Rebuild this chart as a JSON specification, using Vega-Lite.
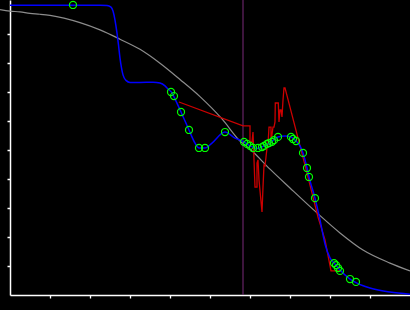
{
  "$schema": "https://vega.github.io/schema/vega-lite/v6.json",
  "width": 400,
  "height": 295,
  "autosize": "none",
  "padding": {"left": 10, "top": 0, "right": 0, "bottom": 15},
  "background": "#000000",
  "config": {"view": {"stroke": null}},
  "datasets": {
    "gray": [
      {"i":0,"x":-0.25,"y":9.84},{"i":1,"x":0,"y":9.79},{"i":2,"x":0.25,"y":9.76},{"i":3,"x":0.5,"y":9.71},
      {"i":4,"x":0.75,"y":9.68},{"i":5,"x":1.0,"y":9.64},{"i":6,"x":1.75,"y":9.39},{"i":7,"x":2.25,"y":9.14},
      {"i":8,"x":2.75,"y":8.82},{"i":9,"x":3.25,"y":8.47},{"i":10,"x":3.75,"y":7.99},{"i":11,"x":4.25,"y":7.43},
      {"i":12,"x":4.75,"y":6.84},{"i":13,"x":5.3,"y":6.07},{"i":14,"x":5.75,"y":5.31},{"i":15,"x":6.025,"y":5.0},
      {"i":16,"x":6.5,"y":4.34},{"i":17,"x":7.0,"y":3.69},{"i":18,"x":7.675,"y":2.83},{"i":19,"x":8.25,"y":2.14},
      {"i":20,"x":8.825,"y":1.55},{"i":21,"x":9.5,"y":1.10},{"i":22,"x":10.0,"y":0.83}
    ],
    "blue": [
      {"i":0,"x":0,"y":9.99},{"i":1,"x":2.25,"y":9.99},{"i":2,"x":2.425,"y":9.98},{"i":3,"x":2.525,"y":9.93},
      {"i":4,"x":2.575,"y":9.79},{"i":5,"x":2.625,"y":9.48},{"i":6,"x":2.675,"y":9.03},{"i":7,"x":2.7125,"y":8.62},
      {"i":8,"x":2.75,"y":8.17},{"i":9,"x":2.7875,"y":7.83},{"i":10,"x":2.825,"y":7.59},{"i":11,"x":2.9,"y":7.40},
      {"i":12,"x":3.0,"y":7.33},{"i":13,"x":3.25,"y":7.33},{"i":14,"x":3.575,"y":7.34},{"i":15,"x":3.75,"y":7.31},
      {"i":16,"x":3.875,"y":7.21},{"i":17,"x":3.95,"y":7.10},{"i":18,"x":4.05,"y":6.97},{"i":19,"x":4.1,"y":6.83},
      {"i":20,"x":4.275,"y":6.31},{"i":21,"x":4.475,"y":5.69},{"i":22,"x":4.625,"y":5.24},{"i":23,"x":4.725,"y":5.07},
      {"i":24,"x":4.875,"y":5.07},{"i":25,"x":5.05,"y":5.24},{"i":26,"x":5.375,"y":5.62},{"i":27,"x":5.625,"y":5.41},
      {"i":28,"x":5.85,"y":5.28},{"i":29,"x":6.0,"y":5.14},{"i":30,"x":6.2,"y":5.05},{"i":31,"x":6.35,"y":5.14},
      {"i":32,"x":6.5,"y":5.24},{"i":33,"x":6.7,"y":5.45},{"i":34,"x":6.875,"y":5.48},{"i":35,"x":7.025,"y":5.45},
      {"i":36,"x":7.15,"y":5.31},{"i":37,"x":7.25,"y":5.14},{"i":38,"x":7.325,"y":4.90},{"i":39,"x":7.425,"y":4.38},
      {"i":40,"x":7.475,"y":4.07},{"i":41,"x":7.625,"y":3.34},{"i":42,"x":7.75,"y":2.59},{"i":43,"x":7.875,"y":1.76},
      {"i":44,"x":8.0,"y":1.28},{"i":45,"x":8.125,"y":1.07},{"i":46,"x":8.25,"y":0.86},{"i":47,"x":8.5,"y":0.55},
      {"i":48,"x":8.675,"y":0.41},{"i":49,"x":9.0,"y":0.24},{"i":50,"x":9.5,"y":0.10},{"i":51,"x":10.0,"y":0.03}
    ],
    "red": [
      {"i":0,"x":4.225,"y":6.655},{"i":1,"x":5.825,"y":5.83},{"i":2,"x":6.0,"y":5.83},{"i":3,"x":6.0,"y":5.28},
      {"i":4,"x":6.05,"y":5.28},{"i":5,"x":6.075,"y":5.62},{"i":6,"x":6.125,"y":3.72},{"i":7,"x":6.175,"y":3.72},
      {"i":8,"x":6.175,"y":4.55},{"i":9,"x":6.2,"y":4.66},{"i":10,"x":6.225,"y":3.97},{"i":11,"x":6.3,"y":2.86},
      {"i":12,"x":6.325,"y":3.72},{"i":13,"x":6.35,"y":4.48},{"i":14,"x":6.375,"y":4.45},{"i":15,"x":6.4,"y":4.76},
      {"i":16,"x":6.425,"y":5.07},{"i":17,"x":6.45,"y":5.17},{"i":18,"x":6.475,"y":5.79},{"i":19,"x":6.525,"y":5.79},
      {"i":20,"x":6.525,"y":5.28},{"i":21,"x":6.575,"y":5.79},{"i":22,"x":6.6,"y":5.79},{"i":23,"x":6.625,"y":5.97},
      {"i":24,"x":6.6325,"y":6.62},{"i":25,"x":6.7075,"y":6.62},{"i":26,"x":6.725,"y":5.97},{"i":27,"x":6.75,"y":6.38},
      {"i":28,"x":6.775,"y":6.38},{"i":29,"x":6.8,"y":6.14},{"i":30,"x":6.825,"y":6.72},{"i":31,"x":6.85,"y":7.14},
      {"i":32,"x":6.875,"y":7.14},{"i":33,"x":7.375,"y":4.48},{"i":34,"x":7.7,"y":2.69},{"i":35,"x":7.875,"y":1.90},
      {"i":36,"x":8.025,"y":0.83},{"i":37,"x":8.275,"y":0.83}
    ],
    "pts": [
      {"x":1.575,"y":10.0},{"x":4.025,"y":7.0},{"x":4.1,"y":6.86},{"x":4.275,"y":6.31},{"x":4.475,"y":5.69},
      {"x":4.725,"y":5.07},{"x":4.875,"y":5.07},{"x":5.375,"y":5.62},{"x":5.85,"y":5.28},{"x":5.925,"y":5.21},
      {"x":6.0,"y":5.14},{"x":6.075,"y":5.07},{"x":6.2,"y":5.07},{"x":6.3,"y":5.10},{"x":6.35,"y":5.14},
      {"x":6.425,"y":5.21},{"x":6.475,"y":5.24},{"x":6.55,"y":5.28},{"x":6.6,"y":5.34},{"x":6.7,"y":5.45},
      {"x":7.025,"y":5.45},{"x":7.075,"y":5.38},{"x":7.15,"y":5.31},{"x":7.325,"y":4.90},{"x":7.425,"y":4.38},
      {"x":7.475,"y":4.07},{"x":7.625,"y":3.34},{"x":8.1,"y":1.10},{"x":8.15,"y":1.03},{"x":8.2,"y":0.93},
      {"x":8.25,"y":0.83},{"x":8.5,"y":0.55},{"x":8.65,"y":0.45}
    ],
    "vline": [{"x":5.825}]
  },
  "layer": [
    {
      "data": {"name": "gray"},
      "mark": {"type": "line", "color": "#8c8c8c", "strokeWidth": 1.2, "interpolate": "monotone"},
      "encoding": {
        "x": {"field": "x", "type": "quantitative", "scale": {"domain": [0, 10], "nice": false, "zero": false},
              "axis": {"values": [1,2,3,4,5,6,7,8,9], "labels": false, "title": null, "grid": false,
                       "domainColor": "#ffffff", "domainWidth": 1.5, "tickColor": "#ffffff", "tickSize": 3, "tickWidth": 1.3}},
        "y": {"field": "y", "type": "quantitative", "scale": {"domain": [0, 10.172], "nice": false, "zero": false},
              "axis": {"values": [1,2,3,4,5,6,7,8,9], "labels": false, "title": null, "grid": false, "tickCount": 9,
                       "domainColor": "#ffffff", "domainWidth": 1.5, "tickColor": "#ffffff", "tickSize": 3, "tickWidth": 1.5, "tickRound": true}},
        "order": {"field": "i", "type": "quantitative"}
      }
    },
    {
      "data": {"name": "vline"},
      "mark": {"type": "rule", "color": "#7a2a7a", "strokeWidth": 1},
      "encoding": {"x": {"field": "x", "type": "quantitative"}}
    },
    {
      "data": {"name": "red"},
      "mark": {"type": "line", "color": "#cc0000", "strokeWidth": 1.3},
      "encoding": {
        "x": {"field": "x", "type": "quantitative"},
        "y": {"field": "y", "type": "quantitative"},
        "order": {"field": "i", "type": "quantitative"}
      }
    },
    {
      "data": {"name": "blue"},
      "mark": {"type": "line", "color": "#0000ff", "strokeWidth": 1.5, "interpolate": "monotone"},
      "encoding": {
        "x": {"field": "x", "type": "quantitative"},
        "y": {"field": "y", "type": "quantitative"},
        "order": {"field": "i", "type": "quantitative"}
      }
    },
    {
      "data": {"name": "pts"},
      "mark": {"type": "point", "shape": "circle", "filled": false, "color": "#00ff00", "strokeWidth": 1.2, "size": 50, "opacity": 1},
      "encoding": {
        "x": {"field": "x", "type": "quantitative"},
        "y": {"field": "y", "type": "quantitative"}
      }
    }
  ]
}
